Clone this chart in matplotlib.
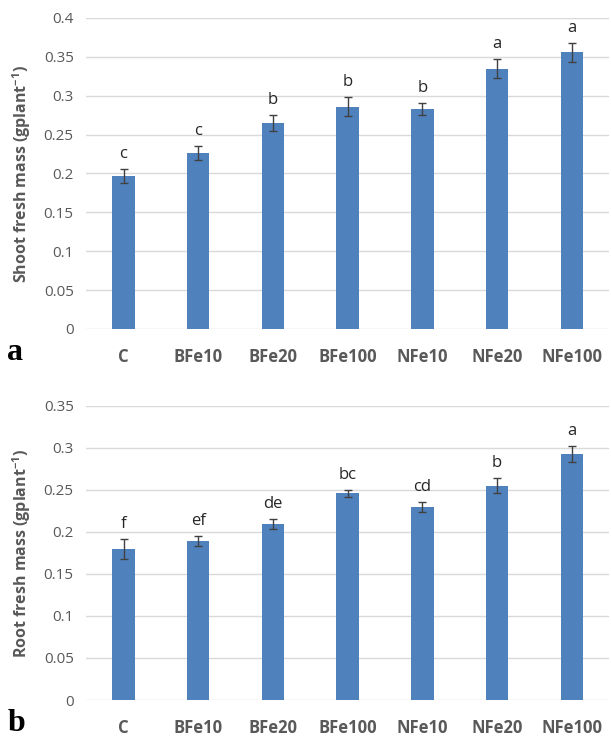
import matplotlib.pyplot as plt
import numpy as np

treatments = ['C', 'BFe10', 'BFe20', 'BFe100', 'NFe10', 'NFe20', 'NFe100']

shoot_mass = [0.197, 0.226, 0.265, 0.286, 0.283, 0.335, 0.356]
shoot_err = [0.009, 0.009, 0.010, 0.012, 0.008, 0.012, 0.012]
shoot_letters = ['c', 'c', 'b', 'b', 'b', 'a', 'a']

root_mass = [0.180, 0.189, 0.210, 0.246, 0.230, 0.255, 0.293]
root_err = [0.012, 0.006, 0.006, 0.004, 0.006, 0.009, 0.0095]
root_letters = ['f', 'ef', 'de', 'bc', 'cd', 'b', 'a']

plt.rcParams['font.family'] = ['Open Sans', 'DejaVu Sans']
plt.rcParams['mathtext.default'] = 'regular'

bar_color = '#4F81BD'
text_gray = '#595959'

fig = plt.figure(figsize=(6.11, 7.37), dpi=100)
ax1 = fig.add_axes([0.141, 0.5536, 0.856, 0.422])
ax2 = fig.add_axes([0.141, 0.0502, 0.856, 0.399])


def draw_panel(ax, values, errs, letters, ymax, ylabel):
    x = np.arange(len(treatments))
    ax.bar(x, values, width=0.3, color=bar_color, zorder=3)
    ax.errorbar(x, values, yerr=errs, fmt='none', ecolor='#404040',
                elinewidth=1, capsize=3, capthick=1, zorder=4)
    for xi, v, e, lab in zip(x, values, errs, letters):
        ax.annotate(lab, (xi, v + e), xytext=(0, 5), textcoords='offset points',
                    ha='center', va='bottom', fontsize=12, color='#262626')
    ax.set_xlim(-0.5, len(treatments) - 0.5)
    ax.set_ylim(0, ymax)
    ax.set_yticks(np.arange(0, ymax + 0.001, 0.05))
    ax.set_yticklabels(['0'] + ['%g' % t for t in np.arange(0.05, ymax + 0.001, 0.05)])
    ax.set_xticks(x)
    ax.set_xticklabels(treatments, fontweight='bold')
    ax.tick_params(axis='both', length=0, colors=text_gray, labelsize=11)
    ax.tick_params(axis='x', pad=14, labelsize=12)
    ax.tick_params(axis='y', pad=9)
    ax.grid(axis='y', color='#D9D9D9', linewidth=1, zorder=0)
    for s in ax.spines.values():
        s.set_visible(False)
    ax.set_ylabel(ylabel, fontweight='bold', color=text_gray, fontsize=11.5, labelpad=8)


draw_panel(ax1, shoot_mass, shoot_err, shoot_letters, 0.4,
           r'Shoot fresh mass (gplant$^{-1}$)')
draw_panel(ax2, root_mass, root_err, root_letters, 0.35,
           r'Root fresh mass (gplant$^{-1}$)')

fig.text(0.012, 0.512, 'a', fontsize=23, fontweight='bold', family='Liberation Serif', color='black')
fig.text(0.012, 0.008, 'b', fontsize=23, fontweight='bold', family='Liberation Serif', color='black')

fig.savefig('out.png', dpi=100, facecolor='white')
